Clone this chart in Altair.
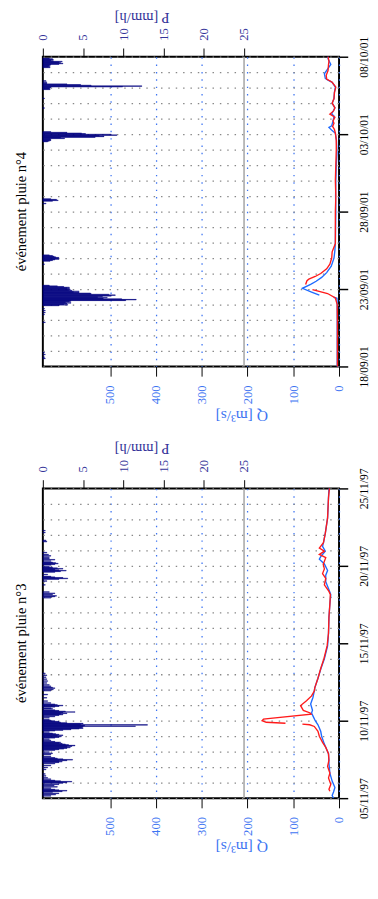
import json
import altair as alt
import pandas as pd

SERIF = "Liberation Serif"
NAVY = "#00007f"
QBLUE = "#3d74f2"
PBLUE = "#333399"
LBLUE = "#1f6bff"
LRED = "#ff1a1a"
Q_MAX = 647
P_MAX = 36.8

# ---------------- event 4 : 18/09/01 -> 08/10/01 ----------------
title4 = "événement pluie n°4"
dates4 = ["18/09/01", "23/09/01", "28/09/01", "03/10/01", "08/10/01"]
rain4_hour = [12, 14, 18, 21, 68, 80, 83, 86, 89,
              94, 95, 96, 97, 98, 99, 100, 101, 102, 103, 104, 105, 106, 107, 108, 109,
              110, 111, 112, 113, 114, 115, 116, 117, 118, 119, 120, 121, 122, 123, 124, 125,
              158, 163, 164, 165, 166, 167, 168, 169, 170, 171, 172,
              252, 256, 257, 258, 259,
              348, 349, 350, 351, 352, 353, 354, 355, 356, 357, 358, 359, 360, 361, 362, 363,
              400, 415,
              429, 430, 431, 432, 433, 434, 435, 436, 437, 438, 440, 442,
              463, 464, 465, 466, 467, 468, 469, 470, 471, 472, 473, 474, 475, 476, 477]
rain4_mm = [0.3, 0.2, 0.3, 0.2, 0.3, 0.2, 0.3, 0.3, 0.2,
            2.0, 3.1, 2.6, 3.0, 3.5, 2.8, 3.3, 3.5, 10.3, 11.6, 9.8, 7.5, 8.0, 6.8, 7.4, 8.5,
            9.0, 8.2, 6.0, 5.9, 4.5, 3.8, 4.5, 3.6, 3.2, 3.4, 3.3, 3.0, 3.3, 2.6, 1.8, 0.8,
            0.2, 0.9, 1.2, 1.5, 2.0, 1.9, 2.0, 1.6, 1.4, 1.2, 0.8,
            0.4, 1.2, 1.9, 1.7, 1.0,
            0.6, 0.8, 1.0, 1.0, 0.9, 2.7, 2.2, 6.5, 7.6, 7.0, 9.2, 8.5, 5.3, 4.8, 3.0, 1.0,
            0.2, 0.2,
            0.9, 0.8, 0.9, 1.0, 9.9, 12.3, 6.0, 4.7, 3.0, 0.5, 0.5, 0.4,
            0.9, 0.7, 0.9, 0.8, 1.0, 2.0, 2.5, 2.2, 2.0, 2.4, 1.3, 1.0, 1.3, 1.2, 0.8]
obs4_day = [0, 1, 2, 3, 4, 4.4, 4.47, 4.5, 4.6, 4.8, 5.05, 5.3, 5.5, 5.75, 6.06, 6.48, 7.0, 7.5,
            8.0, 9, 10, 11, 12, 13, 13.77, 14.6, 15.06, 15.23, 15.44, 15.54, 15.85, 16.17, 16.3,
            16.7, 17.0, 17.3, 17.7, 18.04, 18.35, 18.5, 18.6, 18.9, 19.2, 19.5, 19.8, 20]
obs4_q = [4, 4, 4, 4, 4, 4.5, 12, None, 43, 60, 80, 62, 50, 38, 27, 17, 11, 9,
          8, 7.5, 7, 7.5, 7, 6, 4.5, 5.6, 8, 15, 22, 16, 13, 11, 16,
          9, 15, 11, 10, 8, 15, 25, 30, 32, 25, 18, 23, 25]
sim4_day = [0, 1, 2, 3, 4, 4.42, 4.71, 4.96, 5.1, 5.3, 5.54, 5.64, 5.81, 6.0, 6.3, 6.6, 7.0, 7.4,
            7.94, 9, 10, 11, 12, 13, 14, 14.6, 15.06, 15.3, 15.5, 15.7, 15.85, 16.1, 16.3, 16.5,
            16.7, 17.0, 17.3, 17.7, 18.04, 18.35, 18.56, 18.8, 19.1, 19.5, 19.7, 20]
sim4_q = [3.5, 3.5, 3.5, 3.5, 4, 8, 25, 58, None, 73, 70, 66, 52, 40, 27, 20, 16, 15,
          8, 8, 8, 7, 8, 7, 6, 6, 8, 10, 14, 11, 13, 9, 20, 12,
          9, 15, 11, 10, 7, 15, 27, 28, 24, 23, 22, 24]

# ---------------- event 3 : 05/11/97 -> 25/11/97 ----------------
title3 = "événement pluie n°3"
dates3 = ["05/11/97", "10/11/97", "15/11/97", "20/11/97", "25/11/97"]
rain3_hour = [3, 5, 7, 9, 10, 11, 12, 13, 15, 17, 19, 21, 23, 24, 25, 26, 27, 29, 31, 34, 37,
              44, 47, 50, 53, 55, 56, 57, 58, 59, 60, 61, 62, 64, 67, 69, 71,
              74, 75, 76, 77, 78, 79, 80, 81, 82, 83, 84, 85, 86, 87, 89, 91,
              93, 94, 95, 96, 97, 98, 99, 100, 102,
              104, 105, 106, 107, 108, 109, 110, 111, 112, 113, 114, 115, 116, 117, 118, 119, 120, 121,
              124, 126, 128, 129, 130, 131, 132, 133, 134, 135, 136, 138, 139,
              141, 142, 143, 144, 145, 147,
              150, 155, 160,
              166, 168, 170, 171, 173, 175,
              178, 181, 184, 187, 190, 193,
              310, 312, 313, 315, 317, 319,
              330, 336,
              339, 340, 341, 342, 343,
              346, 350, 351, 352, 353, 354, 355, 356, 357, 358,
              361, 362, 363, 364, 365, 367, 369, 371,
              373, 375, 377, 380,
              397, 399, 411, 414]
rain3_mm = [1.0, 1.6, 2.0, 1.2, 2.4, 3.0, 2.0, 1.5, 1.0, 1.8, 1.4, 2.0, 2.5, 3.0, 3.6, 2.2, 1.5, 1.0, 0.6, 0.4, 0.3,
            0.4, 0.6, 1.0, 1.5, 2.0, 2.4, 2.0, 3.0, 3.7, 2.5, 1.8, 1.5, 1.0, 1.0, 1.2, 0.8,
            1.5, 2.0, 2.6, 3.0, 3.4, 3.0, 3.6, 4.0, 3.2, 2.8, 2.4, 2.0, 2.2, 1.5, 1.0, 0.8,
            1.5, 2.0, 2.3, 1.8, 2.5, 2.0, 1.6, 1.2, 0.8,
            1.5, 2.5, 3.5, 4.5, 5.0, 4.8, 5.0, 11.5, 5.2, 13.0, 4.7, 5.0, 3.0, 2.2, 2.0, 1.5, 1.0, 0.8,
            0.8, 1.5, 2.0, 2.5, 2.2, 3.0, 2.5, 4.0, 2.8, 2.0, 1.5, 1.2, 1.0,
            1.5, 2.0, 2.5, 1.8, 1.5, 1.0,
            0.6, 0.5, 0.6,
            1.0, 1.3, 1.5, 1.2, 1.0, 0.8,
            0.5, 0.6, 0.5, 0.4, 0.5, 0.3,
            1.0, 1.5, 1.7, 1.2, 1.5, 0.8,
            0.3, 0.5,
            2.0, 3.1, 2.5, 1.5, 1.0,
            0.6, 1.5, 2.2, 2.9, 2.0, 1.5, 2.5, 1.8, 1.2, 0.8,
            1.0, 1.5, 1.9, 1.6, 1.2, 1.0, 1.5, 0.8,
            0.8, 1.0, 0.7, 0.5,
            0.5, 0.4, 0.3, 0.3]
obs3_day = [0, 0.17, 0.4, 0.69, 1.1, 1.62, 2.24, 2.87, 3.49, 4.0, 4.32, 4.74, 5.0, 5.25, 5.5,
            5.67, 6.08, 6.5, 6.92, 7.12, 7.74, 8.37, 9.0, 9.83, 10.65, 11.7, 12.52, 13.15, 13.46,
            13.98, 14.4, 14.7, 15.12, 15.43, 15.64, 15.95, 16.26, 16.5, 17.1, 18.1, 19.4, 20]
obs3_q = [12, 15, 12, 9, 15, 20, 22, 23, 32, 38, 40, 46, 52, 56, 60,
          58, 62, 57, 54, 53, 46, 39.5, 32, 25, 23, 22, 20, 18, 22,
          29, 29, 25, 32, 43, 39, 30, 36, 34, 30, 25, 23, 22]
sim3_day = [0.45, 0.58, 0.89, 1.31, 1.62, 2.04, 2.45, 2.87, 3.28, 3.6, 4.0, 4.32, 4.63, 4.74, 4.78,
            4.81, 4.84, 4.9, 5.0, 5.1, 5.15, 5.42, 5.5, 5.67, 5.98, 6.29, 6.6, 6.92, 7.12, 7.74,
            8.37, 9.0, 9.83, 10.65, 11.7, 12.52, 13.15, 13.35, 13.77, 14.19, 14.5, 14.8, 15.1,
            15.53, 15.74, 15.95, 16.15, 16.5, 17.1, 18.1, 19.4, 20]
sim3_q = [20, 22, 18, 23, 20, 25, 22, 23, 29, 36, 43, 46, 54, 64, 80,
          None, 117, 159, 168, 165, 150, 61, 63, 78, 84, 71, 60, 54, 53, 46,
          40, 33, 26, 23, 22, 20, 19, 22, 32, 29, 36, 32, 34.5,
          29, 43, 32, 43, 34, 30, 25, 23, 21]

for a, b in [(rain4_hour, rain4_mm), (obs4_day, obs4_q), (sim4_day, sim4_q),
             (rain3_hour, rain3_mm), (obs3_day, obs3_q), (sim3_day, sim3_q)]:
    assert len(a) == len(b), (len(a), len(b))


def line_df(days, qs, name):
    rows, seg = [], 0
    for d, q in zip(days, qs):
        if q is None:
            seg += 1
            continue
        rows.append({"t": d, "q": q, "serie": name, "seg": f"{name}{seg}"})
    return pd.DataFrame(rows)


TXT = dict(labelFont=SERIF, titleFont=SERIF, titleFontWeight="normal")


def panel(title, dates, rain_h, rain_p, obs_d, obs_q, sim_d, sim_q):
    rain = pd.DataFrame({"t0": [h / 24 for h in rain_h],
                         "t1": [(h + 1) / 24 for h in rain_h],
                         "p": rain_p, "p0": [0.0] * len(rain_p)})
    lines = pd.concat([line_df(obs_d, obs_q, "obs"), line_df(sim_d, sim_q, "sim")])
    yscale = alt.Scale(domain=[0, 20], nice=False, zero=False)
    pscale = alt.Scale(domain=[0, P_MAX], nice=False)
    qscale = alt.Scale(domain=[0, Q_MAX], nice=False, reverse=True)

    bars = alt.Chart(rain).mark_rect(color=NAVY, stroke=NAVY, strokeWidth=0.4).encode(
        x=alt.X("p:Q", scale=pscale, axis=alt.Axis(
            orient="top", values=[0, 5, 10, 15, 20, 25], labelAngle=-90,
            labelColor=PBLUE, labelFontSize=13, labelPadding=8, labelFlush=False,
            labelOverlap=False, tickSize=9, tickColor="black", domain=False, grid=False,
            title="P [mm/h]", titleAngle=180, titleBaseline="middle", titleColor=PBLUE,
            titleFontSize=15, titleX=102, titleY=-41, **TXT)),
        x2="p0:Q",
        y=alt.Y("t0:Q", scale=yscale, axis=alt.Axis(
            orient="left", values=list(range(21)), grid=True, gridColor="#888888",
            gridDash=[1.5, 6.1], gridWidth=1.3, labels=False, ticks=False, domain=False,
            title=None)),
        y2="t1:Q",
    )
    thresh = alt.Chart(pd.DataFrame({"p": [25]})).mark_rule(
        color="#a8a8a8", strokeWidth=1.6).encode(
        x=alt.X("p:Q", scale=pscale, axis=None))

    label_expr = json.dumps(dates) + "[round(datum.value / 5)]"
    qlines = alt.Chart(lines).mark_line(strokeWidth=1.4).encode(
        x=alt.X("q:Q", scale=qscale, axis=alt.Axis(
            orient="bottom", values=[0, 100, 200, 300, 400, 500], labelAngle=-90,
            labelColor=QBLUE, labelFontSize=13, labelPadding=9, labelFlush=False,
            labelOverlap=False, tickSize=10, tickColor="black", domain=False,
            grid=True, gridColor=QBLUE, gridDash=[1.5, 6.1], gridWidth=1.3,
            title="Q [m³/s]", titleAngle=180, titleBaseline="middle", titleColor=QBLUE,
            titleFontSize=16, titleX=205, titleY=50, **TXT)),
        y=alt.Y("t:Q", scale=yscale, axis=alt.Axis(
            orient="right", values=[0, 5, 10, 15, 20], labelExpr=label_expr,
            labelAngle=-90, labelColor="black", labelFontSize=12, labelPadding=11,
            tickSize=9, tickColor="black", tickWidth=1.5, domain=False, grid=False,
            title=None, **TXT)),
        color=alt.Color("serie:N", scale=alt.Scale(domain=["obs", "sim"], range=[LBLUE, LRED]),
                        legend=None),
        detail="seg:N",
        order="t:Q",
    )

    return alt.layer(bars, thresh, qlines).resolve_scale(
        x="independent").resolve_axis(y="independent").properties(
        width=306, height=320,
        title=alt.TitleParams(title, orient="left", font=SERIF, fontSize=15,
                              fontWeight="normal", color="black", offset=8, anchor="middle"))


top = panel(title4, dates4, rain4_hour, rain4_mm, obs4_day, obs4_q, sim4_day, sim4_q)
bottom = panel(title3, dates3, rain3_hour, rain3_mm, obs3_day, obs3_q, sim3_day, sim3_q)

chart = alt.vconcat(top, bottom, spacing=16).properties(
    padding={"left": 5, "top": -15, "right": 0, "bottom": 5}, background="white"
).configure_view(stroke="black", strokeWidth=2).configure_axis(
    labelFont=SERIF, titleFont=SERIF, titleFontWeight="normal"
)

chart.save("out.html", embed_options={"renderer": "svg", "actions": False})
